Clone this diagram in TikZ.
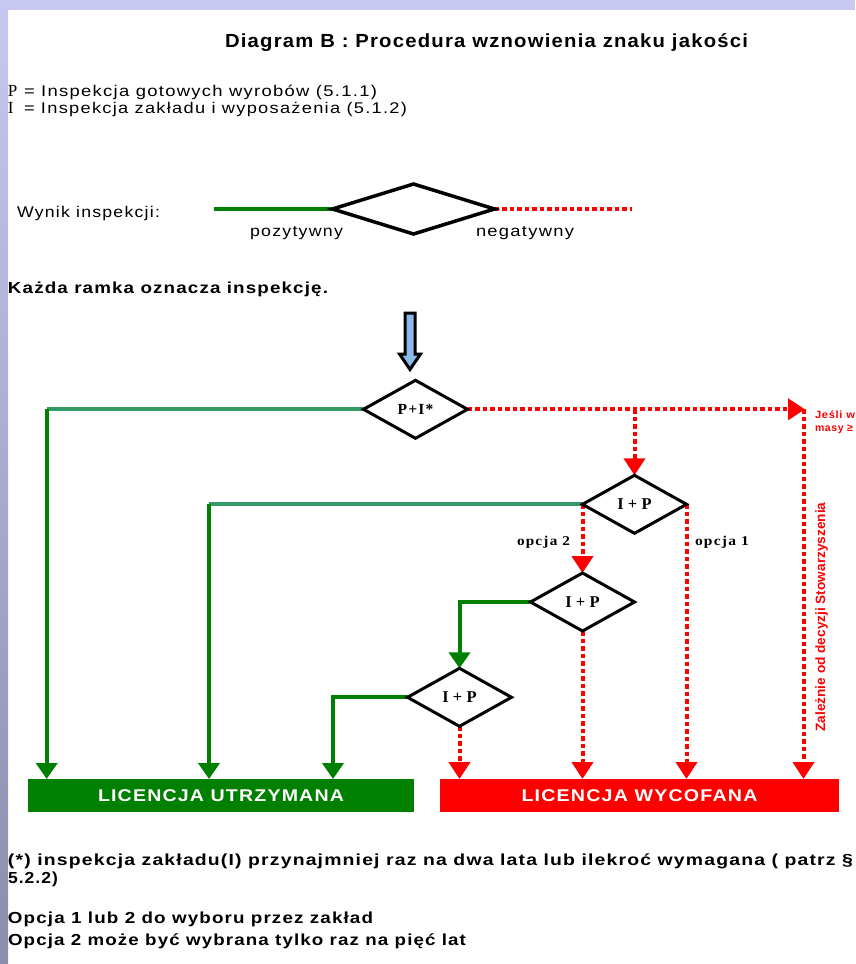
\documentclass[tikz,border=0pt]{standalone}
\usepackage{fontspec}
\usepackage{graphicx}
\setmainfont{Liberation Sans}
\newfontfamily\fR[LetterSpace=7]{Liberation Sans}
\newfontfamily\fB[LetterSpace=6]{Liberation Sans}
\newfontfamily\fS{Liberation Serif}
\newfontfamily\fSL[LetterSpace=8]{Liberation Serif}
\usetikzlibrary{shapes.geometric,arrows.meta,calc}
\definecolor{dgreen}{RGB}{0,128,0}
\definecolor{sgreen}{RGB}{51,153,102}
\definecolor{lav}{RGB}{200,200,240}
\definecolor{lavdark}{RGB}{140,140,172}
\definecolor{lblue}{RGB}{140,185,235}
\newcommand\fitw[2]{\resizebox{#1pt}{\height}{#2}}
\pgfdeclarelayer{back}
\pgfdeclarelayer{lines}
\pgfsetlayers{back,lines,main}
\begin{document}
\begin{tikzpicture}[x=1pt,y=-1pt,
  txt/.style={anchor=base west,inner sep=0pt,outer sep=0pt},
  dia/.style={shape=diamond,draw=black,line width=3pt,minimum width=104pt,minimum height=58pt,inner sep=0pt,outer sep=0pt,font=\fS\bfseries\fontsize{16.5}{18}\selectfont},
  posh/.style={draw=sgreen,line width=4pt},
  posv/.style={draw=dgreen,line width=4pt,-{Triangle[length=16pt,width=21pt]}},
  neg/.style={draw=red,line width=4pt,dash pattern=on 4.5pt off 3pt},
  nega/.style={neg,-{Triangle[length=17pt,width=21pt]}},
  licbox/.style={text=white,inner sep=0pt,outer sep=0pt,minimum height=32.7pt,anchor=north west}
]
\useasboundingbox (0,0) rectangle (855,964);
\begin{pgfonlayer}{back}
  \fill[white] (0,0) rectangle (855,964);
  \fill[lav] (0,0) rectangle (855,10);
  \shade[top color=lav,bottom color=lavdark] (0,0) rectangle (8,964);
\end{pgfonlayer}

% title and legend texts
\node[txt] (title) at (225,47) {\fitw{523}{\fB\bfseries\fontsize{19}{21}\selectfont Diagram B : Procedura wznowienia znaku jakości}};
\node[txt] (legP) at (8,96.5) {\fS\fontsize{17}{19}\selectfont P};
\node[txt] (leg1) at (24,96.5) {\fitw{353}{\fR\fontsize{15.5}{17}\selectfont = Inspekcja gotowych wyrobów (5.1.1)}};
\node[txt] (legI) at (8,113) {\fS\fontsize{17}{19}\selectfont I};
\node[txt] (leg2) at (24,113) {\fitw{383}{\fR\fontsize{15.5}{17}\selectfont = Inspekcja zakładu i wyposażenia (5.1.2)}};

\node[txt] (wynik) at (17,217) {\fitw{143}{\fR\fontsize{15.5}{17}\selectfont Wynik inspekcji:}};
\node[txt] (pozyt) at (250,236) {\fitw{93}{\fR\fontsize{15.5}{17}\selectfont pozytywny}};
\node[txt] (negat) at (476,236) {\fitw{98}{\fR\fontsize{15.5}{17}\selectfont negatywny}};
\node[txt] (kazda) at (8,293) {\fitw{320}{\fB\bfseries\fontsize{16}{18}\selectfont Każda ramka oznacza inspekcję.}};

% legend diamond
\coordinate (lgL) at (214,209);
\coordinate (lgR) at (632,209);
\node[dia,line width=3.5pt,minimum width=162pt,minimum height=50pt] (lgD) at (413.5,209) {};

% entry arrow
\draw[line width=3pt,fill=lblue,line join=miter] (405,313) -- (415,313) -- (415,354) -- (420.5,354) -- (410,369.5) -- (399.5,354) -- (405,354) -- cycle;

% decision diamonds
\node[dia] (D1) at (415.5,409.3) {\fitw{36}{\fSL\bfseries\fontsize{15.5}{17}\selectfont P+I*}};
\node[dia] (D2) at (634.5,504.3) {I + P};
\node[dia] (D3) at (582.5,602) {I + P};
\node[dia] (D4) at (459.5,697.3) {I + P};

% result boxes
\node[licbox,fill=dgreen,minimum width=386pt] (boxG) at (28,779) {\fitw{246}{\fB\bfseries\fontsize{17}{19}\selectfont LICENCJA UTRZYMANA}};
\node[licbox,fill=red,minimum width=399pt] (boxR) at (440,779) {\fitw{236}{\fB\bfseries\fontsize{17}{19}\selectfont LICENCJA WYCOFANA}};

% labels
\node[txt] (opc2) at (517,545) {\fitw{53}{\fSL\bfseries\fontsize{13.5}{15}\selectfont opcja 2}};
\node[txt] (opc1) at (695,545) {\fitw{54}{\fSL\bfseries\fontsize{13.5}{15}\selectfont opcja 1}};
\node[txt,text=red] (jesli1) at (815,418.5) {\fitw{40}{\fB\bfseries\fontsize{10.5}{12}\selectfont Jeśli w}};
\node[txt,text=red] (jesli2) at (815,431) {\fitw{38}{\fB\bfseries\fontsize{10.5}{12}\selectfont masy ≥}};
\node[inner sep=0pt,anchor=base,rotate=90,text=red] (vert) at (825,617) {\fitw{229}{\bfseries\fontsize{13.5}{15}\selectfont Zależnie od decyzji Stowarzyszenia}};

% footnotes
\node[txt] (foot1) at (8,865) {\fitw{845}{\fB\bfseries\fontsize{16}{18}\selectfont (*) inspekcja zakładu(I) przynajmniej raz na dwa lata lub ilekroć wymagana ( patrz §}};
\node[txt] (foot2) at (8,883) {\fitw{50}{\fB\bfseries\fontsize{16}{18}\selectfont 5.2.2)}};
\node[txt] (foot3) at (8,923) {\fitw{365}{\fB\bfseries\fontsize{16}{18}\selectfont Opcja 1 lub 2 do wyboru przez zakład}};
\node[txt] (foot4) at (8,945) {\fitw{458}{\fB\bfseries\fontsize{16}{18}\selectfont Opcja 2 może być wybrana tylko raz na pięć lat}};

% connectors
\coordinate (c1) at (46.7,409.3);
\coordinate (c2) at (209,504.3);
\coordinate (c4) at (333,697.3);
\coordinate (rT) at (805,409.3);
\coordinate (rc) at (803.5,409.3);
\begin{pgfonlayer}{lines}
  \draw[posh,draw=dgreen] (lgL) -- (lgD.west);
  \draw[neg] (lgD.east) -- (lgR);
  \draw[posh] (D1.west) -- (c1);
  \draw[posv] (c1) -- (c1 |- boxG.north);
  \draw[nega] (D1.east) -- (rT);
  \draw[nega] (rc) -- (rc |- boxR.north);
  \draw[nega] (D2.north |- D1.east) -- (D2.north);
  \draw[posh] (D2.west) -- (c2);
  \draw[posv] (c2) -- (c2 |- boxG.north);
  \draw[nega] (D2.west) -- (D3.north);
  \draw[nega] (D2.east) -- (D2.east |- boxR.north);
  \draw[posv] (D3.west) -| (D4.north);
  \draw[nega] (D3.south) -- (D3.south |- boxR.north);
  \draw[posv] (D4.west) -| (c4 |- boxG.north);
  \draw[nega] (D4.south) -- (D4.south |- boxR.north);
\end{pgfonlayer}
\end{tikzpicture}
\end{document}
